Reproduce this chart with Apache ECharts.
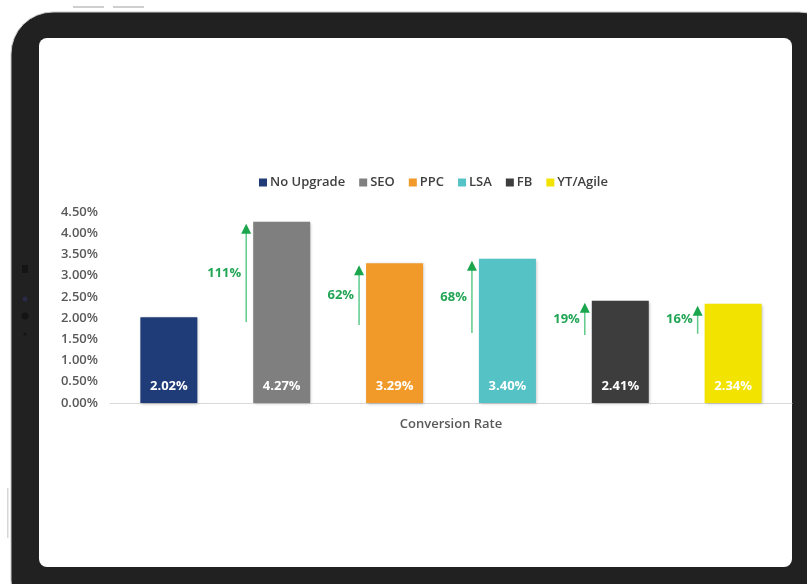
<!DOCTYPE html>
<html>
<head>
<meta charset="utf-8">
<script src="https://cdn.jsdelivr.net/npm/echarts@6/dist/echarts.min.js"></script>
<style>
  html, body { margin: 0; padding: 0; background: #fff; }
  #chart { width: 807px; height: 584px; }
</style>
</head>
<body>
<div id="chart"></div>
<script>
// data
var category = ['Conversion Rate'];
var names = ['No Upgrade', 'SEO', 'PPC', 'LSA', 'FB', 'YT/Agile'];
var values = [2.02, 4.27, 3.29, 3.40, 2.41, 2.34];
var colors = ['#1f3b78', '#7f7f7f', '#f19a2a', '#55c2c6', '#3d3d3d', '#f2e300'];
// uplift arrows vs "No Upgrade" (one per series after the first)
var lifts = ['111%', '62%', '68%', '19%', '16%'];
var arrowFrom = [1.91, 1.84, 1.65, 1.60, 1.63];
var yTicks = { min: 0, max: 4.5, interval: 0.5 };

var FONT = '"Open Sans", sans-serif';
var BAR_W = 57;
var GAP = 0.98;

var chart = echarts.init(document.getElementById('chart'));

var barSeries = names.map(function (n, i) {
  return {
    name: n,
    type: 'bar',
    barWidth: BAR_W,
    barGap: (GAP * 100) + '%',
    data: [values[i]],
    itemStyle: {
      color: colors[i],
      shadowColor: 'rgba(0,0,0,0.25)',
      shadowBlur: 3,
      shadowOffsetX: 1,
      shadowOffsetY: 1
    },
    label: {
      show: true,
      position: 'insideBottom',
      distance: 10,
      color: '#fff',
      fontFamily: FONT,
      fontWeight: 'bold',
      fontSize: 13,
      formatter: function (p) { return p.value.toFixed(2) + '%'; }
    },
    z: 3
  };
});

// arrows drawn next to each bar
var arrowData = arrowFrom.map(function (f, i) { return [0, f, values[i + 1]]; });

var arrowSeries = {
  type: 'custom',
  data: arrowData,
  encode: { x: 0, y: [1, 2] },
  silent: true,
  z: 4,
  renderItem: function (params, api) {
    var idx = params.dataIndex + 1;
    var base = api.coord([0, api.value(1)]);
    var tip = api.coord([0, api.value(2)]);
    var step = BAR_W * (1 + GAP);
    var x = base[0] + (idx - 2.5) * step - BAR_W / 2 - 7;
    var yTip = tip[1] + 2;
    var headH = 10, headW = 10;
    return {
      type: 'group',
      children: [
        {
          type: 'line',
          shape: { x1: x, y1: base[1], x2: x, y2: yTip + headH - 1 },
          style: { stroke: '#5fca8c', lineWidth: 1.5 }
        },
        {
          type: 'polygon',
          shape: { points: [[x, yTip], [x - headW / 2, yTip + headH], [x + headW / 2, yTip + headH]] },
          style: { fill: '#1ba64d' }
        },
        {
          type: 'text',
          style: {
            x: x - 5,
            y: (base[1] + yTip) / 2,
            text: lifts[idx - 1],
            align: 'right',
            verticalAlign: 'middle',
            fill: '#22a656',
            font: 'bold 13px ' + FONT
          }
        }
      ]
    };
  }
};

var option = {
  backgroundColor: '#fff',
  animation: false,
  graphic: [
    // tablet frame
    { type: 'rect', z: -10, shape: { x: 73, y: 6, width: 31, height: 2 }, style: { fill: '#cfcfcf' } },
    { type: 'rect', z: -10, shape: { x: 113, y: 6, width: 31, height: 2 }, style: { fill: '#cfcfcf' } },
    { type: 'rect', z: -10, shape: { x: 7, y: 488, width: 1.5, height: 50 }, style: { fill: '#d6d6d6' } },
    { type: 'rect', z: -9, shape: { x: 11, y: 12, width: 830, height: 610, r: 42 },
      style: { fill: '#212121', stroke: '#c8c8c8', lineWidth: 1 } },
    { type: 'rect', z: -8, shape: { x: 22, y: 265, width: 6, height: 8 }, style: { fill: '#141414' } },
    { type: 'circle', z: -8, shape: { cx: 25, cy: 299, r: 2.5 }, style: { fill: '#2a2a48' } },
    { type: 'circle', z: -8, shape: { cx: 25, cy: 316, r: 3.5 }, style: { fill: '#141414' } },
    { type: 'circle', z: -8, shape: { cx: 25, cy: 334, r: 1.5 }, style: { fill: '#141414' } },
    { type: 'rect', z: -7, shape: { x: 39, y: 38, width: 753, height: 529, r: 8 }, style: { fill: '#ffffff' } }
  ],
  legend: {
    data: names,
    left: 254,
    top: 171,
    icon: 'rect',
    itemWidth: 8,
    itemHeight: 8,
    itemGap: 14,
    textStyle: { fontFamily: FONT, fontSize: 13, fontWeight: 600, color: '#404040', padding: [0, 0, 0, -2] }
  },
  grid: { left: 110, right: 15, top: 212, bottom: 181 },
  xAxis: {
    type: 'category',
    data: category,
    axisTick: { show: false },
    axisLine: { lineStyle: { color: '#d9d9d9', width: 1 } },
    axisLabel: { margin: 15, color: '#595959', fontFamily: FONT, fontSize: 13, fontWeight: 600 }
  },
  yAxis: {
    type: 'value',
    min: yTicks.min,
    max: yTicks.max,
    interval: yTicks.interval,
    splitLine: { show: false },
    axisLine: { show: false },
    axisTick: { show: false },
    axisLabel: {
      margin: 12,
      color: '#595959',
      fontFamily: FONT,
      fontSize: 13,
      fontWeight: 600,
      formatter: function (v) { return v.toFixed(2) + '%'; }
    }
  },
  series: barSeries.concat([arrowSeries])
};

chart.setOption(option);
</script>
</body>
</html>
